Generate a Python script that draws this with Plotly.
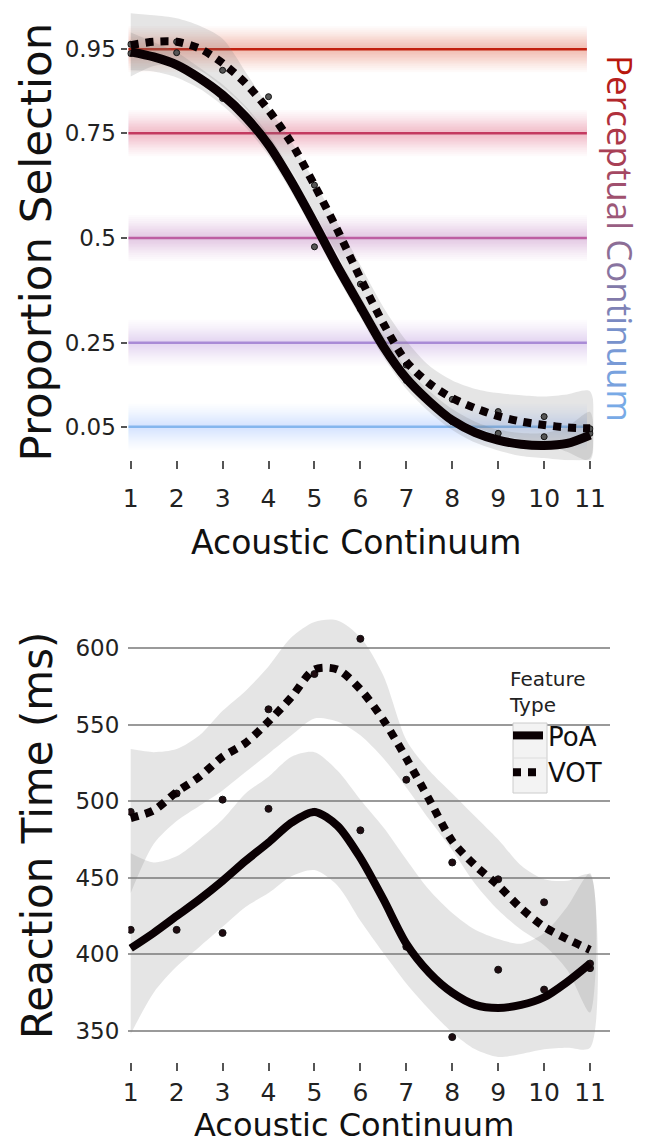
import plotly.graph_objects as go

W, H = 650, 1145

# ---------------- data ----------------
x_ticks = [1, 2, 3, 4, 5, 6, 7, 8, 9, 10, 11]
x_fine = [1, 1.5, 2, 2.5, 3, 3.5, 4, 4.5, 5, 5.5, 6, 6.5, 7, 7.5, 8, 8.5, 9, 9.5, 10, 10.5, 11]

# Top panel: proportion selection
poa_prop = [0.944, 0.932, 0.913, 0.881, 0.841, 0.789, 0.722, 0.634, 0.535, 0.432, 0.336,
            0.241, 0.165, 0.110, 0.065, 0.036, 0.018, 0.008, 0.005, 0.010, 0.030]
poa_prop_hi = [0.990, 0.967, 0.943, 0.906, 0.866, 0.814, 0.747, 0.659, 0.560, 0.457, 0.361,
               0.266, 0.190, 0.135, 0.092, 0.062, 0.043, 0.035, 0.035, 0.050, 0.085]
poa_prop_lo = [0.900, 0.897, 0.883, 0.856, 0.816, 0.764, 0.697, 0.609, 0.510, 0.407, 0.311,
               0.216, 0.140, 0.085, 0.042, 0.012, -0.007, -0.020, -0.025, -0.030, -0.025]
vot_prop = [0.960, 0.968, 0.968, 0.952, 0.917, 0.869, 0.805, 0.726, 0.626, 0.519, 0.404,
            0.296, 0.205, 0.153, 0.118, 0.094, 0.075, 0.062, 0.054, 0.048, 0.046]
vot_prop_hi = [1.036, 1.031, 1.024, 1.006, 0.975, 0.896, 0.812, 0.730, 0.635, 0.535, 0.435,
               0.335, 0.255, 0.195, 0.160, 0.140, 0.130, 0.125, 0.122, 0.127, 0.134]
vot_prop_lo = [0.885, 0.910, 0.915, 0.900, 0.860, 0.810, 0.740, 0.660, 0.560, 0.460, 0.350,
               0.250, 0.160, 0.110, 0.075, 0.050, 0.030, 0.020, 0.010, -0.010, -0.030]
poa_prop_pts = [0.940, 0.942, 0.833, 0.720, 0.479, 0.330, 0.160, 0.062, 0.034, 0.026, 0.034]
vot_prop_pts = [0.962, 0.968, 0.900, 0.837, 0.626, 0.390, 0.197, 0.115, 0.086, 0.074, 0.045]

prop_levels = [0.95, 0.75, 0.5, 0.25, 0.05]
prop_labels = ["0.95", "0.75", "0.5", "0.25", "0.05"]
level_colors = ["#c2200f", "#c43a60", "#bd5ea2", "#a98bd6", "#84b6ee"]

# Bottom panel: reaction time (ms)
poa_rt = [404, 414, 425, 436, 448, 461, 473, 486, 493, 484, 463,
          436, 407, 388, 375, 367, 365, 367, 372, 382, 394]
poa_rt_hi = [466, 460, 464, 475, 488, 505, 516, 529, 532, 520, 501,
             483, 462, 442, 427, 416, 410, 407, 414, 431, 453]
poa_rt_lo = [348, 375, 392, 405, 418, 431, 440, 451, 455, 445, 422,
             401, 381, 364, 349, 338, 333, 335, 338, 339, 339]
vot_rt = [489, 494, 506, 516, 529, 538, 552, 568, 586, 586, 573,
          553, 528, 501, 474, 458, 445, 430, 418, 410, 403]
vot_rt_hi = [534, 532, 534, 543, 559, 572, 588, 607, 617, 618, 607,
             582, 540, 520, 505, 490, 475, 458, 449, 448, 452]
vot_rt_lo = [440, 472, 487, 497, 507, 519, 531, 543, 554, 552, 543,
             528, 509, 488, 468, 446, 429, 416, 406, 390, 362]
poa_rt_pts = [416, 416, 414, 495, 493, 481, 405, 346, 390, 377, 391]
vot_rt_pts = [493, 505, 501, 560, 583, 606, 514, 460, 449, 434, 394]
rt_ticks = [350, 400, 450, 500, 550, 600]

title_word_colors = ["#b8170d", "#b6201c", "#b2282c", "#b0303c", "#ac3848", "#a84056",
                     "#a44862", "#a0506e", "#9c5878", "#985e82", "#ffffff",
                     "#8c6e96", "#8874a0", "#827aaa", "#7e82b6", "#7a8ac2",
                     "#7892cc", "#789ad6", "#78a2de", "#78aae6"]
perc_text = "Perceptual Continuum"

# ---------------- helpers ----------------
def px(x):
    return x / W

def py(y):
    return 1 - y / H

BAND = "rgba(125,125,125,0.20)"
fig = go.Figure()

def band(xs, lo, hi, xa, ya):
    fig.add_trace(go.Scatter(
        x=xs + xs[::-1], y=hi + lo[::-1], mode="lines", fill="toself",
        fillcolor=BAND, line=dict(width=0, shape="spline", smoothing=0.8),
        hoverinfo="skip", showlegend=False, xaxis=xa, yaxis=ya))

def curve(xs, ys, xa, ya, dotted, name, show, width):
    fig.add_trace(go.Scatter(
        x=xs, y=ys, mode="lines", name=name, showlegend=show, legendgroup=name,
        line=dict(color="#0a0003", width=width, shape="spline", smoothing=0.8,
                  dash="8px,7px" if dotted else "solid"),
        xaxis=xa, yaxis=ya))

def pts(xs, ys, xa, ya, color, size):
    fig.add_trace(go.Scatter(
        x=xs, y=ys, mode="markers", showlegend=False,
        marker=dict(color=color, size=size, line=dict(color="#111", width=1)),
        xaxis=xa, yaxis=ya))

# top panel
band(x_fine, vot_prop_lo, vot_prop_hi, "x", "y")
band(x_fine, poa_prop_lo, poa_prop_hi, "x", "y")
pts(x_ticks, poa_prop_pts, "x", "y", "#555", 6)
pts(x_ticks, vot_prop_pts, "x", "y", "#555", 6)
curve(x_fine, poa_prop, "x", "y", False, "PoA", False, 9)
curve(x_fine, vot_prop, "x", "y", True, "VOT", False, 8)

# bottom panel
band(x_fine, vot_rt_lo, vot_rt_hi, "x2", "y2")
band(x_fine, poa_rt_lo, poa_rt_hi, "x2", "y2")
pts(x_ticks, poa_rt_pts, "x2", "y2", "#1e0b10", 7)
pts(x_ticks, vot_rt_pts, "x2", "y2", "#1e0b10", 7)
curve(x_fine, poa_rt, "x2", "y2", False, "PoA", True, 8)
curve(x_fine, vot_rt, "x2", "y2", True, "VOT", True, 8)

# glowing horizontal level lines (soft halo built from stacked translucent strokes)
glow_widths = [46, 42, 38, 34, 30, 27, 24, 21, 18, 15, 12, 9, 6]
shapes = []
for lv, col in zip(prop_levels, level_colors):
    r, g, b = int(col[1:3], 16), int(col[3:5], 16), int(col[5:7], 16)
    for w in glow_widths:
        shapes.append(dict(type="line", xref="x", yref="y", x0=0.95, x1=10.93, y0=lv, y1=lv,
                           layer="below", line=dict(color=f"rgba({r},{g},{b},0.022)", width=w)))
    shapes.append(dict(type="line", xref="x", yref="y", x0=0.95, x1=10.93, y0=lv, y1=lv,
                       layer="below", line=dict(color=col, width=2.5)))

# legend frame pieces
shapes.append(dict(type="rect", xref="paper", yref="paper", x0=px(490), x1=px(575),
                   y0=py(733), y1=py(716), layer="between", fillcolor="white",
                   line=dict(width=0)))
shapes.append(dict(type="rect", xref="paper", yref="paper", x0=px(513), x1=px(547),
                   y0=py(793), y1=py(723), layer="above", fillcolor="#f3f3f3",
                   line=dict(color="#cccccc", width=1)))
shapes.append(dict(type="line", xref="paper", yref="paper", x0=px(513), x1=px(547),
                   y0=py(758), y1=py(758), layer="above", line=dict(color="#dddddd", width=1)))

perc_html = "".join(
    ch if ch == " " else f"<span style='color:{c}'>{ch}</span>"
    for ch, c in zip(perc_text, title_word_colors))

ann = [
    dict(text="Proportion Selection", x=px(35), y=py(242.5), xref="paper", yref="paper",
         textangle=-90, showarrow=False, xanchor="center", yanchor="middle",
         font=dict(family="DejaVu Sans", size=43.5, color="#111")),
    dict(text="Reaction Time (ms)", x=px(37), y=py(836), xref="paper", yref="paper",
         textangle=-90, showarrow=False, xanchor="center", yanchor="middle",
         font=dict(family="DejaVu Sans", size=42, color="#111")),
    dict(text="Acoustic Continuum", x=px(356), y=py(542), xref="paper", yref="paper",
         showarrow=False, xanchor="center", yanchor="middle",
         font=dict(family="DejaVu Sans", size=33, color="#111")),
    dict(text="Acoustic Continuum", x=px(354), y=py(1125), xref="paper", yref="paper",
         showarrow=False, xanchor="center", yanchor="middle",
         font=dict(family="DejaVu Sans", size=32, color="#111")),
    dict(text=perc_html, x=px(621), y=py(238), xref="paper", yref="paper",
         textangle=90, showarrow=False, xanchor="center", yanchor="middle",
         font=dict(family="Open Sans", size=35, color="#999")),
]

tickfont = dict(family="DejaVu Sans", size=23, color="#222")

fig.update_layout(
    width=W, height=H, autosize=False,
    margin=dict(l=0, r=0, t=0, b=0, pad=0, autoexpand=False),
    paper_bgcolor="white", plot_bgcolor="rgba(0,0,0,0)",
    shapes=shapes, annotations=ann,
    xaxis=dict(domain=[px(127.5), px(593.3)], range=[0.93, 11.07], anchor="y",
               tickvals=x_ticks, ticktext=[str(v) for v in x_ticks],
               ticks="outside", ticklen=8, tickwidth=1.5, tickcolor="#555",
               showgrid=False, zeroline=False, showline=False,
               tickfont=dict(family="DejaVu Sans", size=25, color="#222"),
               ticklabelstandoff=8),
    yaxis=dict(domain=[py(460.2), py(7.4)], range=[-0.03, 1.05], anchor="x",
               tickvals=prop_levels, ticktext=prop_labels,
               ticks="outside", ticklen=6, tickwidth=1.5, tickcolor="#555",
               showgrid=False, zeroline=False, showline=False, tickfont=tickfont),
    xaxis2=dict(domain=[px(128.4), px(609.8)], range=[0.95, 11.43], anchor="y2",
                tickvals=x_ticks, ticktext=[str(v) for v in x_ticks],
                ticks="outside", ticklen=8, tickwidth=1.5, tickcolor="#555",
                showgrid=False, zeroline=False, showline=False,
                tickfont=dict(family="DejaVu Sans", size=25, color="#222"),
                ticklabelstandoff=0),
    yaxis2=dict(domain=[py(1061.6), py(609.7)], range=[330, 625], anchor="x2",
                tickvals=rt_ticks, ticks="", showgrid=True, gridcolor="#9a9a9a",
                gridwidth=1.5, zeroline=False, showline=False, tickfont=tickfont,
                ticklabelstandoff=8),
    legend=dict(x=px(508), y=py(660), xanchor="left", yanchor="top",
                bgcolor="rgba(0,0,0,0)", borderwidth=0,
                title=dict(text="Feature<br>Type", side="top",
                           font=dict(family="DejaVu Sans", size=20, color="#222")),
                font=dict(family="DejaVu Sans", size=26, color="#111"),
                itemwidth=30, tracegroupgap=0),
    showlegend=True,
)

fig.write_html("out.html", config={"responsive": False})
